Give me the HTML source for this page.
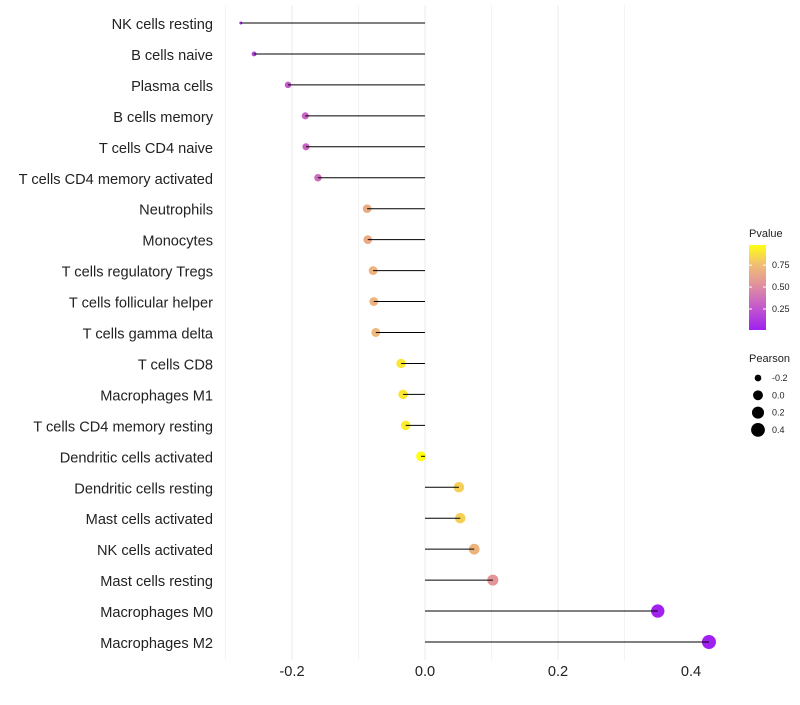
<!DOCTYPE html>
<html><head><meta charset="utf-8"><style>
body{margin:0;background:#fff;font-family:"Liberation Sans",sans-serif;}
</style></head><body>
<svg id="chart" width="800" height="700" xmlns="http://www.w3.org/2000/svg" font-family="Liberation Sans, sans-serif">
<defs><linearGradient id="pg" x1="0" y1="1" x2="0" y2="0">
<stop offset="0" stop-color="#a020f0"/><stop offset="0.3" stop-color="#c860c8"/><stop offset="0.55" stop-color="#e2959a"/><stop offset="0.78" stop-color="#f2c070"/><stop offset="1" stop-color="#ffff10"/></linearGradient></defs>
<g id="grid"></g>
<g id="marks"></g>
<g id="ylab"></g>
<g id="xlab"></g>
<g>
<text x="749" y="237" font-size="11" fill="#222">Pvalue</text>
<rect x="749" y="245" width="17" height="85" fill="url(#pg)"/>
<g id="cbt"></g>
</g>
<g id="sizeleg">
<text x="749" y="362" font-size="11" fill="#222">Pearson</text>
</g>
</svg>
<script>
const categories=["NK cells resting","B cells naive","Plasma cells","B cells memory","T cells CD4 naive","T cells CD4 memory activated","Neutrophils","Monocytes","T cells regulatory  Tregs ","T cells follicular helper","T cells gamma delta","T cells CD8","Macrophages M1","T cells CD4 memory resting","Dendritic cells activated","Dendritic cells resting","Mast cells activated","NK cells activated","Mast cells resting","Macrophages M0","Macrophages M2"];
const pearson=[-0.277,-0.257,-0.206,-0.180,-0.179,-0.161,-0.087,-0.086,-0.078,-0.077,-0.074,-0.036,-0.033,-0.029,-0.006,0.051,0.053,0.074,0.102,0.350,0.427];
const pvalue=[0.08,0.15,0.27,0.32,0.32,0.36,0.66,0.66,0.7,0.7,0.72,0.9,0.9,0.92,0.98,0.82,0.82,0.7,0.55,0.02,0.01];
const xTicks=[-0.2,0,0.2,0.4];
const xTickLabels=["-0.2","0.0","0.2","0.4"];
const cbTicks=[0.25,0.5,0.75];
const sizeLegend=[-0.2,0,0.2,0.4];
const NS="http://www.w3.org/2000/svg";
const x=v=>425+v*665;
const y=i=>23+i*30.95;
const pmin=0.01,pmax=0.98;
const cbY=p=>330-(p-pmin)/(pmax-pmin)*85;
const smin=-0.277,smax=0.427;
const rad=v=>1.5+5.5*Math.sqrt(Math.max(0,(v-smin)/(smax-smin)));
const stops=[[0,[160,32,240]],[0.3,[200,96,200]],[0.55,[226,149,154]],[0.78,[242,192,112]],[1,[255,255,16]]];
function col(p){let t=(p-pmin)/(pmax-pmin);t=Math.max(0,Math.min(1,t));for(let k=1;k<stops.length;k++){if(t<=stops[k][0]){const a=stops[k-1],b=stops[k];const f=(t-a[0])/(b[0]-a[0]);return "rgb("+a[1].map((c,j)=>Math.round(c+(b[1][j]-c)*f)).join(",")+")";}}return "rgb(255,255,16)";}
function mk(tag,attrs,parent,txt){const e=document.createElementNS(NS,tag);for(const k in attrs)e.setAttribute(k,attrs[k]);if(txt!==undefined)e.textContent=txt;parent.appendChild(e);return e;}
const grid=document.getElementById('grid');
for(let v=-0.3;v<=0.31;v+=0.1){const g=mk('line',{x1:x(v),x2:x(v),y1:5,y2:660,stroke:Math.abs(Math.round(v*10))%2===0?'#ebebeb':'#f3f3f3','stroke-width':1},grid);

}
const marks=document.getElementById('marks'),ylab=document.getElementById('ylab');
categories.forEach((c,i)=>{
const dot=mk('circle',{cx:x(pearson[i]),cy:y(i),r:rad(pearson[i]),fill:col(pvalue[i])},marks);


const ln=mk('line',{x1:x(0),x2:x(pearson[i]),y1:y(i),y2:y(i),stroke:'#000','stroke-width':1},marks);


const t=mk('text',{x:213,y:y(i)+6,'text-anchor':'end','font-size':14.6,fill:'#222'},ylab,c);


});
const xl=document.getElementById('xlab');
xTicks.forEach((v,i)=>{const t=mk('text',{x:x(v),y:676,'text-anchor':'middle','font-size':14.6,fill:'#222'},xl,xTickLabels[i]);

});
const cbt=document.getElementById('cbt');
cbTicks.forEach(p=>{const yy=cbY(p);
mk('line',{x1:749,x2:752,y1:yy,y2:yy,stroke:'#fff'},cbt);mk('line',{x1:763,x2:766,y1:yy,y2:yy,stroke:'#fff'},cbt);
const t=mk('text',{x:772,y:yy+3,'font-size':9,fill:'#222'},cbt,p.toFixed(2));

});
const sl=document.getElementById('sizeleg');
sizeLegend.forEach((v,i)=>{const yy=378+i*17.3;
const c=mk('circle',{cx:758,cy:yy,r:rad(v),fill:'#000'},sl);


const t=mk('text',{x:772,y:yy+3,'font-size':9,fill:'#222'},sl,v.toFixed(1));

});
</script>
</body></html>
